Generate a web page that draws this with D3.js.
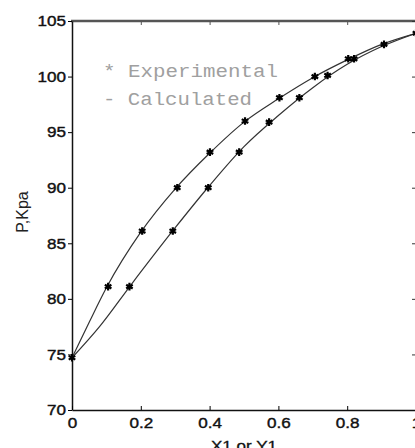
<!DOCTYPE html>
<html>
<head>
<meta charset="utf-8">
<script src="https://cdn.jsdelivr.net/npm/d3@7"></script>
<style>
  body { margin: 0; background: #fff; }
  svg { display: block; }
  .wide { transform-box: fill-box; transform: scaleX(1.14); }
  .y-axis text { transform-origin: right center; }
  .x-axis text { transform-origin: center; }
</style>
</head>
<body>
<svg id="chart" width="415" height="448"></svg>
<script>
// experimental points, liquid (x1) branch
const expX = [0, 0.105, 0.204, 0.306, 0.401, 0.503, 0.603, 0.706, 0.803, 0.907, 1];
const expPx = [74.7, 81.1, 86.1, 90.0, 93.2, 96.0, 98.1, 100.0, 101.6, 102.9, 103.9];
// experimental points, vapour (y1) branch
const expY = [0.167, 0.293, 0.396, 0.486, 0.573, 0.661, 0.743, 0.820];
const expPy = [81.1, 86.1, 90.0, 93.2, 95.9, 98.1, 100.1, 101.6];

// calculated curves
const calcX = [0, 0.05, 0.1, 0.2, 0.3, 0.4, 0.5, 0.6, 0.7, 0.8, 0.9, 1];
const calcPx = [74.7, 77.9, 81.0, 86.0, 89.9, 93.1, 95.9, 98.0, 99.9, 101.5, 102.9, 103.9];
const calcY = [0, 0.08, 0.17, 0.3, 0.4, 0.5, 0.6, 0.7, 0.8, 0.9, 1];
const calcPy = [74.7, 77.5, 81.2, 86.4, 90.2, 93.7, 96.5, 99.0, 101.1, 102.7, 103.9];

const xTicks = [0, 0.2, 0.4, 0.6, 0.8, 1];
const yTicks = [70, 75, 80, 85, 90, 95, 100, 105];

var svg = d3.select("#chart");
var font = "'Liberation Sans', Arial, sans-serif";

var x = d3.scaleLinear().domain([0, 1]).range([72, 416]);
var y = d3.scaleLinear().domain([70, 105]).range([410, 21]);

// top border, drawn heavier like the scan
svg.append("line")
    .attr("x1", 71).attr("x2", 416)
    .attr("y1", y(105)).attr("y2", y(105))
    .attr("stroke", "#555").attr("stroke-width", 2.5);

// top ticks
svg.append("g")
    .attr("transform", `translate(0,${y(105)})`)
    .call(d3.axisTop(x).tickValues(xTicks).tickSize(-4).tickFormat(""))
    .call(g => g.select(".domain").remove())
    .selectAll("line").attr("stroke", "#555");

// right ticks
svg.append("g")
    .attr("transform", `translate(${x(1)},0)`)
    .call(d3.axisRight(y).tickValues(yTicks).tickSize(-4).tickFormat(""))
    .selectAll("line").attr("stroke", "#333");

var yAxis = svg.append("g")
    .attr("class", "y-axis")
    .attr("transform", `translate(${x(0)},0)`)
    .call(d3.axisLeft(y).tickValues(yTicks).tickSize(4).tickPadding(2).tickSizeOuter(0));

var xAxis = svg.append("g")
    .attr("class", "x-axis")
    .attr("transform", `translate(0,${y(70)})`)
    .call(d3.axisBottom(x).tickValues(xTicks).tickSizeInner(-4).tickSizeOuter(0)
        .tickPadding(7).tickFormat(d => String(d)));

svg.selectAll(".y-axis, .x-axis").selectAll(".domain")
    .attr("stroke", "#111").attr("stroke-width", 1.5);
svg.selectAll(".y-axis, .x-axis").selectAll("text")
    .attr("class", "wide")
    .attr("font-family", font)
    .attr("font-size", 15)
    .attr("fill", "#111")
    .attr("stroke", "#111").attr("stroke-width", 0.4);

// axis labels
svg.append("text")
    .attr("class", "wide")
    .attr("x", 244).attr("y", 451)
    .attr("text-anchor", "middle")
    .attr("font-family", font).attr("font-size", 15)
    .attr("fill", "#111").attr("stroke", "#111").attr("stroke-width", 0.3)
    .style("transform-origin", "center")
    .text("X1 or Y1");

svg.append("text")
    .attr("transform", "translate(28,212) rotate(-90)")
    .attr("text-anchor", "middle")
    .attr("font-family", font).attr("font-size", 16)
    .attr("fill", "#222")
    .text("P,Kpa");

// calculated lines
var line = d3.line()
    .x(d => x(d[0]))
    .y(d => y(d[1]))
    .curve(d3.curveMonotoneX);

svg.append("path")
    .datum(calcX.map((v, i) => [v, calcPx[i]]))
    .attr("fill", "none").attr("stroke", "#333").attr("stroke-width", 1.2)
    .attr("d", line);

svg.append("path")
    .datum(calcY.map((v, i) => [v, calcPy[i]]))
    .attr("fill", "none").attr("stroke", "#333").attr("stroke-width", 1.2)
    .attr("d", line);

// experimental markers
var star = d3.symbol(d3.symbolAsterisk, 40);
var pts = expX.map((v, i) => [v, expPx[i]])
    .concat(expY.map((v, i) => [v, expPy[i]]));

svg.append("g")
    .selectAll("path")
    .data(pts)
    .enter().append("path")
    .attr("transform", d => `translate(${x(d[0])},${y(d[1])})`)
    .attr("d", star)
    .attr("fill", "none")
    .attr("stroke", "#000")
    .attr("stroke-width", 2.2);

// legend
var legend = svg.append("g")
    .attr("font-family", "'Liberation Mono', 'Courier New', monospace")
    .attr("font-size", 18)
    .attr("fill", "#a0a0a0");

legend.append("text")
    .attr("x", 103).attr("y", 77)
    .attr("textLength", 175)
    .attr("lengthAdjust", "spacingAndGlyphs")
    .text("* Experimental");

legend.append("text")
    .attr("x", 103).attr("y", 105)
    .attr("textLength", 149)
    .attr("lengthAdjust", "spacingAndGlyphs")
    .text("- Calculated");
</script>
</body>
</html>
